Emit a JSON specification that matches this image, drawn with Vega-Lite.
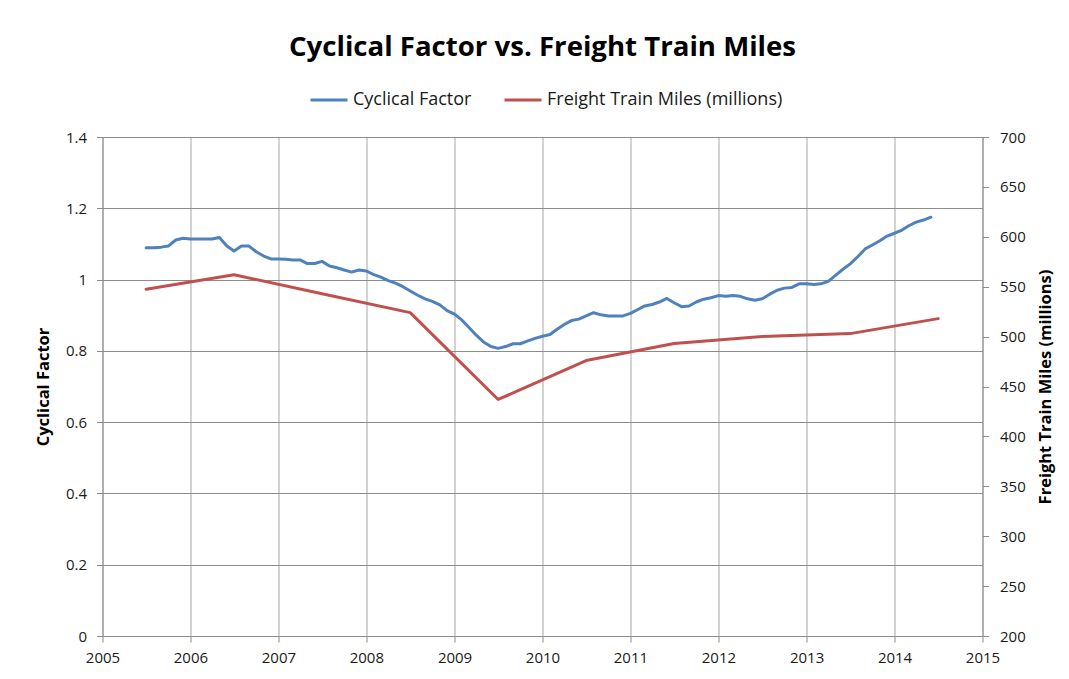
{
  "$schema": "https://vega.github.io/schema/vega-lite/v6.json",
  "width": 880,
  "height": 499,
  "autosize": {"type": "none"},
  "padding": {"left": 102.5, "top": 137, "right": 86.5, "bottom": 43},
  "background": "white",
  "title": {
    "text": "Cyclical Factor vs. Freight Train Miles",
    "font": "Open Sans",
    "fontSize": 27.6,
    "fontWeight": "bold",
    "color": "#000000",
    "anchor": "middle",
    "frame": "group",
    "offset": 18
  },
  "config": {
    "view": {"stroke": null},
    "axis": {
      "labelFont": "Open Sans",
      "labelFontSize": 15,
      "labelColor": "#1a1a1a",
      "titleFont": "Open Sans",
      "titleFontSize": 16.5,
      "titleFontWeight": "bold",
      "titleColor": "#000000",
      "tickColor": "#8c8c8c",
      "tickSize": 6,
      "domainColor": "#8c8c8c",
      "gridColor": "#8c8c8c",
      "gridWidth": 1
    },
    "legend": {
      "orient": "none",
      "legendX": 206.5,
      "legendY": -57,
      "direction": "horizontal",
      "symbolType": "stroke",
      "symbolStrokeWidth": 3,
      "symbolSize": 1369,
      "labelFont": "Open Sans",
      "labelFontSize": 18,
      "labelColor": "#1a1a1a",
      "labelOffset": 4,
      "labelLimit": 400,
      "columnPadding": 26
    }
  },
  "datasets": {
    "cyclical": [
      {"month": "2005-07", "factor": 1.089},
      {"month": "2005-08", "factor": 1.089},
      {"month": "2005-09", "factor": 1.091},
      {"month": "2005-10", "factor": 1.094},
      {"month": "2005-11", "factor": 1.111},
      {"month": "2005-12", "factor": 1.116},
      {"month": "2006-01", "factor": 1.114},
      {"month": "2006-02", "factor": 1.114},
      {"month": "2006-03", "factor": 1.114},
      {"month": "2006-04", "factor": 1.114},
      {"month": "2006-05", "factor": 1.118},
      {"month": "2006-06", "factor": 1.094},
      {"month": "2006-07", "factor": 1.080},
      {"month": "2006-08", "factor": 1.094},
      {"month": "2006-09", "factor": 1.094},
      {"month": "2006-10", "factor": 1.078},
      {"month": "2006-11", "factor": 1.066},
      {"month": "2006-12", "factor": 1.058},
      {"month": "2007-01", "factor": 1.058},
      {"month": "2007-02", "factor": 1.057},
      {"month": "2007-03", "factor": 1.055},
      {"month": "2007-04", "factor": 1.055},
      {"month": "2007-05", "factor": 1.045},
      {"month": "2007-06", "factor": 1.045},
      {"month": "2007-07", "factor": 1.051},
      {"month": "2007-08", "factor": 1.038},
      {"month": "2007-09", "factor": 1.033},
      {"month": "2007-10", "factor": 1.027},
      {"month": "2007-11", "factor": 1.021},
      {"month": "2007-12", "factor": 1.027},
      {"month": "2008-01", "factor": 1.024},
      {"month": "2008-02", "factor": 1.014},
      {"month": "2008-03", "factor": 1.007},
      {"month": "2008-04", "factor": 0.997},
      {"month": "2008-05", "factor": 0.990},
      {"month": "2008-06", "factor": 0.980},
      {"month": "2008-07", "factor": 0.968},
      {"month": "2008-08", "factor": 0.956},
      {"month": "2008-09", "factor": 0.946},
      {"month": "2008-10", "factor": 0.939},
      {"month": "2008-11", "factor": 0.929},
      {"month": "2008-12", "factor": 0.913},
      {"month": "2009-01", "factor": 0.903},
      {"month": "2009-02", "factor": 0.886},
      {"month": "2009-03", "factor": 0.866},
      {"month": "2009-04", "factor": 0.844},
      {"month": "2009-05", "factor": 0.825},
      {"month": "2009-06", "factor": 0.812},
      {"month": "2009-07", "factor": 0.807},
      {"month": "2009-08", "factor": 0.812},
      {"month": "2009-09", "factor": 0.820},
      {"month": "2009-10", "factor": 0.820},
      {"month": "2009-11", "factor": 0.828},
      {"month": "2009-12", "factor": 0.835},
      {"month": "2010-01", "factor": 0.841},
      {"month": "2010-02", "factor": 0.846},
      {"month": "2010-03", "factor": 0.860},
      {"month": "2010-04", "factor": 0.874},
      {"month": "2010-05", "factor": 0.885},
      {"month": "2010-06", "factor": 0.889},
      {"month": "2010-07", "factor": 0.898},
      {"month": "2010-08", "factor": 0.907},
      {"month": "2010-09", "factor": 0.901},
      {"month": "2010-10", "factor": 0.898},
      {"month": "2010-11", "factor": 0.898},
      {"month": "2010-12", "factor": 0.898},
      {"month": "2011-01", "factor": 0.905},
      {"month": "2011-02", "factor": 0.916},
      {"month": "2011-03", "factor": 0.926},
      {"month": "2011-04", "factor": 0.930},
      {"month": "2011-05", "factor": 0.937},
      {"month": "2011-06", "factor": 0.947},
      {"month": "2011-07", "factor": 0.935},
      {"month": "2011-08", "factor": 0.924},
      {"month": "2011-09", "factor": 0.926},
      {"month": "2011-10", "factor": 0.937},
      {"month": "2011-11", "factor": 0.945},
      {"month": "2011-12", "factor": 0.949},
      {"month": "2012-01", "factor": 0.955},
      {"month": "2012-02", "factor": 0.953},
      {"month": "2012-03", "factor": 0.955},
      {"month": "2012-04", "factor": 0.953},
      {"month": "2012-05", "factor": 0.946},
      {"month": "2012-06", "factor": 0.942},
      {"month": "2012-07", "factor": 0.946},
      {"month": "2012-08", "factor": 0.959},
      {"month": "2012-09", "factor": 0.970},
      {"month": "2012-10", "factor": 0.976},
      {"month": "2012-11", "factor": 0.978},
      {"month": "2012-12", "factor": 0.988},
      {"month": "2013-01", "factor": 0.988},
      {"month": "2013-02", "factor": 0.986},
      {"month": "2013-03", "factor": 0.988},
      {"month": "2013-04", "factor": 0.995},
      {"month": "2013-05", "factor": 1.012},
      {"month": "2013-06", "factor": 1.029},
      {"month": "2013-07", "factor": 1.044},
      {"month": "2013-08", "factor": 1.064},
      {"month": "2013-09", "factor": 1.086},
      {"month": "2013-10", "factor": 1.097},
      {"month": "2013-11", "factor": 1.109},
      {"month": "2013-12", "factor": 1.122},
      {"month": "2014-01", "factor": 1.130},
      {"month": "2014-02", "factor": 1.139},
      {"month": "2014-03", "factor": 1.151},
      {"month": "2014-04", "factor": 1.161},
      {"month": "2014-05", "factor": 1.167},
      {"month": "2014-06", "factor": 1.175}
    ],
    "freight": [
      {"month": "2005-07", "miles": 547.5},
      {"month": "2006-07", "miles": 562},
      {"month": "2007-07", "miles": 543},
      {"month": "2008-07", "miles": 524},
      {"month": "2009-07", "miles": 437},
      {"month": "2010-07", "miles": 476},
      {"month": "2011-07", "miles": 493},
      {"month": "2012-07", "miles": 500},
      {"month": "2013-07", "miles": 503},
      {"month": "2014-07", "miles": 518}
    ]
  },
  "layer": [
    {
      "data": {"name": "cyclical"},
      "mark": {"type": "line", "strokeWidth": 3, "strokeJoin": "round", "strokeCap": "round"},
      "encoding": {
        "x": {
          "field": "month",
          "type": "temporal",
          "scale": {
            "type": "utc",
            "domain": [
              {"year": 2005, "month": 1, "date": 1, "utc": true},
              {"year": 2015, "month": 1, "date": 1, "utc": true}
            ]
          },
          "axis": {
            "title": null,
            "format": "%Y",
            "tickCount": {"interval": "year", "step": 1},
            "labelPadding": 8,
            "gridColor": "#a6a6a6",
            "domainColor": "#8c8c8c",
            "labelFlush": false
          }
        },
        "y": {
          "field": "factor",
          "type": "quantitative",
          "scale": {"domain": [0, 1.4], "nice": false, "zero": false},
          "axis": {
            "title": "Cyclical Factor",
            "orient": "left",
            "values": [0, 0.2, 0.4, 0.6, 0.8, 1, 1.2, 1.4],
            "format": "~g",
            "labelPadding": 10,
            "titlePadding": 14,
            "grid": true
          }
        },
        "color": {
          "datum": "Cyclical Factor",
          "type": "nominal",
          "scale": {
            "domain": ["Cyclical Factor", "Freight Train Miles (millions)"],
            "range": ["#4f81bd", "#c0504d"]
          },
          "legend": {"title": null}
        }
      }
    },
    {
      "data": {"name": "freight"},
      "mark": {"type": "line", "strokeWidth": 3, "strokeJoin": "round", "strokeCap": "round"},
      "encoding": {
        "x": {"field": "month", "type": "temporal"},
        "y": {
          "field": "miles",
          "type": "quantitative",
          "scale": {"domain": [200, 700], "nice": false, "zero": false},
          "axis": {
            "title": "Freight Train Miles (millions)",
            "orient": "right",
            "values": [200, 250, 300, 350, 400, 450, 500, 550, 600, 650, 700],
            "labelPadding": 11,
            "titleAngle": 270,
            "titleBaseline": "top",
            "titlePadding": 12,
            "grid": false
          }
        },
        "color": {"datum": "Freight Train Miles (millions)", "type": "nominal"}
      }
    }
  ],
  "resolve": {"scale": {"y": "independent"}}
}
